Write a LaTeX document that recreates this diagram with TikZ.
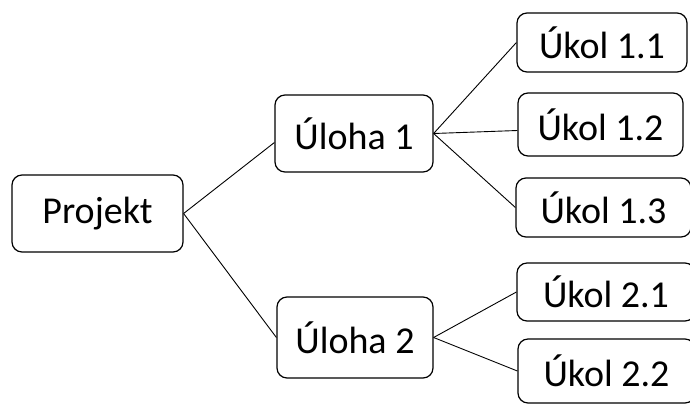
\documentclass[tikz,border=0pt]{standalone}
\usepackage{fontspec}
\setmainfont{Carlito}
\usetikzlibrary{calc}
\begin{document}
\begin{tikzpicture}[x=1pt,y=-1pt]
\tikzset{
  box/.style={draw, line width=1.2pt, rounded corners=10pt, rectangle, inner sep=0pt,
    font=\fontsize{38}{42}\selectfont, text=black},
  link/.style={draw, line width=0.9pt}
}
\useasboundingbox (0,0) rectangle (690,405);
\begin{scope}
\clip (0,0) rectangle (690,405);
\node[box, minimum width=171pt, minimum height=77pt] (p) at (97.5,213.5) {Projekt};
\node[box, minimum width=158pt, minimum height=77pt] (u1) at (354,133.5) {Úloha 1};
\node[box, minimum width=156pt, minimum height=81pt] (u2) at (355,337.5) {Úloha 2};
\node[box, minimum width=170pt, minimum height=59pt] (k11) at (602,42.5) {Úkol 1.1};
\node[box, minimum width=165pt, minimum height=63pt] (k12) at (600.5,124.5) {Úkol 1.2};
\node[box, minimum width=175pt, minimum height=59pt] (k13) at (603.5,207.5) {Úkol 1.3};
\node[box, minimum width=178pt, minimum height=58pt] (k21) at (606,292) {Úkol 2.1};
\node[box, minimum width=177pt, minimum height=64pt] (k22) at (606.5,371) {Úkol 2.2};
\end{scope}
\draw[link] (p.east) -- ($(u1.west)+(0,9)$);
\draw[link] (p.east) -- (u2.west);
\draw[link] (u1.east) -- (k11.west);
\draw[link] (u1.east) -- ($(k12.west)+(0,6)$);
\draw[link] (u1.east) -- (k13.west);
\draw[link] (u2.east) -- (k21.west);
\draw[link] (u2.east) -- (k22.west);
\end{tikzpicture}
\end{document}
